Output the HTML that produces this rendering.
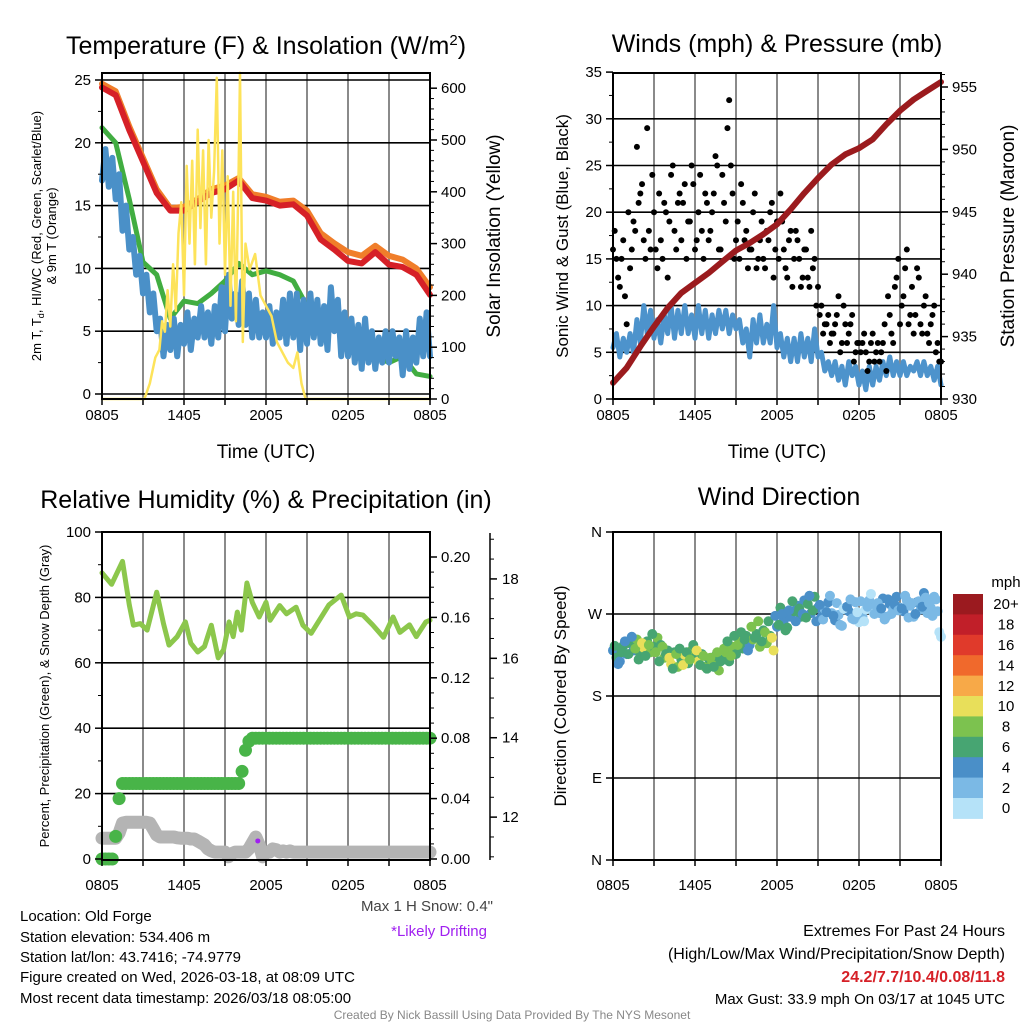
<!DOCTYPE html>
<html><head><meta charset="utf-8"><style>
html,body{margin:0;padding:0;background:#fff}
svg{display:block;font-family:"Liberation Sans",Arial,sans-serif}
</style></head><body>
<svg id="c" width="1024" height="1024" viewBox="0 0 1024 1024" xmlns="http://www.w3.org/2000/svg">
<rect width="1024" height="1024" fill="#fff"/>
<g id="layer"></g>
<!-- titles -->
<text x="266" y="54" font-size="25" text-anchor="middle">Temperature (F) &amp; Insolation (W/m<tspan dy="-9" font-size="15">2</tspan><tspan dy="9">)</tspan></text>
<text x="777" y="52" font-size="25" text-anchor="middle">Winds (mph) &amp; Pressure (mb)</text>
<text x="266" y="508" font-size="25" text-anchor="middle">Relative Humidity (%) &amp; Precipitation (in)</text>
<text x="779" y="505" font-size="25" text-anchor="middle">Wind Direction</text>
<!-- axis titles -->
<text x="266" y="458" font-size="19" text-anchor="middle">Time (UTC)</text>
<text x="777" y="458" font-size="19" text-anchor="middle">Time (UTC)</text>
<g transform="translate(41,236) rotate(-90)" font-size="13" text-anchor="middle"><text x="0" y="0">2m T, T<tspan font-size="9" dy="3">d</tspan><tspan dy="-3">, HI/WC (Red, Green, Scarlet/Blue)</tspan></text><text x="0" y="15">&amp; 9m T (Orange)</text></g>
<text transform="translate(500,236) rotate(-90)" font-size="19" text-anchor="middle">Solar Insolation (Yellow)</text>
<text transform="translate(568,236) rotate(-90)" font-size="17" text-anchor="middle">Sonic Wind &amp; Gust (Blue, Black)</text>
<text transform="translate(1014,236) rotate(-90)" font-size="19" text-anchor="middle">Station Pressure (Maroon)</text>
<text transform="translate(49,696) rotate(-90)" font-size="13" text-anchor="middle">Percent, Precipitation (Green), &amp; Snow Depth (Gray)</text>
<text transform="translate(566,696) rotate(-90)" font-size="17" text-anchor="middle">Direction (Colored By Speed)</text>
<!-- footer text -->
<g font-size="15">
<text x="20" y="921">Location: Old Forge</text>
<text x="20" y="942">Station elevation: 534.406 m</text>
<text x="20" y="962">Station lat/lon: 43.7416; -74.9779</text>
<text x="20" y="982">Figure created on Wed, 2026-03-18, at 08:09 UTC</text>
<text x="20" y="1003">Most recent data timestamp: 2026/03/18 08:05:00</text>
</g>
<text x="493" y="911" font-size="15" text-anchor="end" fill="#444">Max 1 H Snow: 0.4"</text>
<text x="487" y="936" font-size="15" text-anchor="end" fill="#a020f0">*Likely Drifting</text>
<g font-size="16" text-anchor="end">
<text x="1005" y="936">Extremes For Past 24 Hours</text>
<text x="1005" y="959">(High/Low/Max Wind/Precipitation/Snow Depth)</text>
<text x="1005" y="982" fill="#d62027" font-weight="bold">24.2/7.7/10.4/0.08/11.8</text>
<text x="1005" y="1004" font-size="15">Max Gust: 33.9 mph On 03/17 at 1045 UTC</text>
</g>
<text x="512" y="1019" font-size="12" text-anchor="middle" fill="#888">Created By Nick Bassill Using Data Provided By The NYS Mesonet</text>
</svg>
<script>
// ---- data (hours from 0805 UTC) ----
const xTickLabels = ["0805","1405","2005","0205","0805"];
const tempRed = [24.4,23.8,21.0,18.5,16.0,14.6,14.6,15.3,16.0,16.3,17.0,15.6,15.4,15.0,15.1,14.2,12.3,11.5,10.6,10.4,11.3,10.3,10.1,9.5,7.9];
const tempOrange = [24.7,24.1,21.3,18.8,16.3,14.8,14.9,15.5,16.3,16.6,17.2,15.9,15.7,15.3,15.4,14.6,12.8,12.0,11.3,11.0,11.8,11.0,10.7,10.0,8.5];
const tempGreen = [21.2,20.0,15.5,10.5,9.5,6.0,7.4,7.2,8.0,9.0,10.4,9.5,9.8,9.5,9.0,7.0,6.0,5.5,4.3,3.5,3.0,2.5,3.0,1.6,1.4];
const tempBlue = [17.0,19.5,16.5,18.8,15.5, 17.5,13.0,15.0,11.5, 12.5,9.5,11.0,8.0, 9.5,6.5,8.0,5.0, 6.0,3.0,5.5,3.5, 6.0,3.0,5.5,4.0, 6.5,3.5,6.0,4.5, 7.0,4.5,6.5,4.0, 7.0,4.5,8.5,5.0, 9.5,6.0,8.0,5.5, 9.0,5.5,8.0,4.5, 7.5,4.5,6.5,4.5, 7.0,4.0,6.5,4.5, 7.5,4.0,8.0,4.5, 8.0,3.5,7.5,4.0, 8.0,4.5,7.5,4.0, 7.0,3.5,8.5,5.0, 7.5,3.0,6.5,3.0, 6.0,2.5,5.5,2.0, 6.0,2.5,5.0,2.0, 4.5,2.5,5.0,2.5, 5.0,3.0,4.5,1.5, 5.0,2.0,4.5,2.5, 6.0,3.0,6.5,3.0];
const solarHours = [0,3.1,3.5,3.9,4.2,4.4,4.6,4.8,5.0,5.2,5.4,5.6,5.8,6.0,6.2,6.4,6.6,6.8,7.0,7.2,7.4,7.6,7.8,8.0,8.2,8.4,8.6,8.8,9.0,9.2,9.4,9.6,9.8,10.0,10.1,10.3,10.5,10.8,11.2,11.6,12.0,12.4,12.8,13.2,13.6,14.0,14.3,14.6,14.9,24];
const solarVals = [0,0,30,80,95,150,130,210,140,260,170,320,380,200,450,300,460,260,520,330,480,260,500,350,440,620,300,480,240,430,180,400,150,450,630,110,300,250,280,200,180,160,110,90,70,60,90,30,0,0];
const windVals = [5.5,7.0,4.5,6.5,5.0, 7.0,5.0,8.5,6.0, 10.0,7.0,9.5,6.5, 8.5,6.0,9.0,7.0, 10.0,6.5,9.5,7.0, 10.0,7.0,9.0,6.5, 10.0,7.0,9.5,6.5, 9.0,7.0,9.5,7.5, 9.5,7.0,9.0,7.5, 8.5,6.0,7.5,4.5, 8.5,6.0,9.0,6.0, 8.0,6.0,10.0,5.5, 7.0,4.5,6.5,4.0, 6.5,4.0,7.0,4.5, 6.5,4.0,7.5,4.5, 5.0,3.0,4.0,2.5, 4.0,2.0,3.5,1.5, 4.0,2.5,3.5,1.5, 3.0,1.0,3.5,1.5, 3.5,2.0,4.0,2.5, 4.5,2.5,4.0,2.5, 4.0,2.5,3.5,3.0, 4.0,2.5,4.0,2.5, 3.5,2.0,3.5,1.5];
const gustVals = [16,15,12,17,8, 14,19,27,22, 17,29,16,20, 14,17,21,13, 24,18,21,17, 23,19,25,16, 20,18,22,17, 20,26,16,24, 19,32,22,17, 15,21,18,16, 20,14,17,15, 18,20,13,19, 22,16,13,18, 15,17,12,16, 13,18,15,12, 10,8,9,7, 8,11,6,8, 7,9,5,6, 6,5,4,7, 5,4,6,3, 9,6,13,8, 11,16,9,7, 14,8,10,7, 8,10,6,4];
const gustValsB = [18,13,15,11, 20,16,18,21, 23,15,18,24, 16,22,15,20, 19,25,16,22, 21,15,19,23, 17,24,15,21, 18,22,25,16, 21,29,25,15, 19,23,17,14, 16,22,15,19, 14,17,21,16, 15,19,14,17, 12,18,15,13, 16,12,14,10, 9,7,8,6, 7,9,5,10, 6,8,4,6, 5,7,3,6, 4,6,5,8, 11,7,12,15, 10,14,8,12, 9,13,7,11, 6,9,5,4];
const pressureVals = [931.3,932.5,934.2,935.8,937.3,938.5,939.3,940.1,941.0,941.9,942.5,943.2,944.0,945.2,946.5,947.7,948.8,949.6,950.1,950.8,952.0,953.1,954.0,954.7,955.4];
const rhHours = [0,0.7,1.5,2.0,2.3,2.8,3.3,4.0,4.5,4.9,5.5,6.1,6.5,7.0,7.5,8.0,8.5,8.9,9.3,9.6,9.9,10.2,10.6,11.0,11.5,12.0,12.3,13.0,13.5,14.2,14.7,15.3,15.9,16.6,17.5,18.1,18.6,19.1,19.8,20.6,21.3,21.8,22.5,23.0,23.7,24];
const rhVals = [87.5,84,91,77.7,71.5,72,70,81.6,72,65.4,68,72.5,66,63.3,65,71.5,61.5,64,72.5,68,75.5,70,84.4,78.5,74,78.5,73,77.5,75,77,71.5,69,73,77.7,80.7,74,75,74.6,71.6,67.8,74,69.3,71.6,68,72.5,73];
const precipVals = [0,0,0,0,0.015,0.04,0.05,0.05,0.05,0.05,0.05,0.05,0.05,0.05,0.05,0.05,0.05,0.05,0.05,0.05,0.05,0.05,0.05,0.05,0.05,0.05,0.05,0.05,0.05,0.05,0.05,0.05,0.05,0.05,0.05,0.05,0.05,0.05,0.05,0.05,0.05,0.058,0.072,0.078,0.08,0.08,0.08,0.08,0.08,0.08,0.08,0.08,0.08,0.08,0.08,0.08,0.08,0.08,0.08,0.08,0.08,0.08,0.08,0.08,0.08,0.08,0.08,0.08,0.08,0.08,0.08,0.08,0.08,0.08,0.08,0.08,0.08,0.08,0.08,0.08,0.08,0.08,0.08,0.08,0.08,0.08,0.08,0.08,0.08,0.08,0.08,0.08,0.08,0.08,0.08,0.08,0.08];
const snowVals = [11.47,11.47,11.47,11.47,11.47, 11.6,11.85,11.87,11.87, 11.87,11.87,11.87,11.87, 11.87,11.85,11.7,11.55, 11.5,11.5,11.5,11.5, 11.5,11.48,11.47,11.47, 11.47,11.45,11.45,11.4, 11.35,11.3,11.2,11.15, 11.12,11.12,11.12,11.12, 11.0,11.08,11.12,11.12, 11.12,11.12,11.2,11.35, 11.5,11.3,11.0,11.12, 11.12,11.2,11.18,11.12, 11.15,11.12,11.15,11.12, 11.12,11.12,11.12,11.12, 11.12,11.12,11.12,11.12, 11.12,11.12,11.12,11.12, 11.12,11.12,11.12,11.12, 11.12,11.12,11.12,11.12, 11.12,11.12,11.12,11.12, 11.12,11.12,11.12,11.12, 11.12,11.12,11.12,11.12, 11.12,11.12,11.12,11.12, 11.12,11.12,11.12,11.12];
const dirVals = [230,222,218,235,226, 238,230,242,225, 233,240,228,234, 244,236,222,230, 215,228,212,220, 225,216,230,222, 218,226,212,221, 216,224,208,220, 228,218,234,226, 240,232,246,236, 242,248,234,252, 238,246,230,256, 277,263,255,267, 273,279,267,285, 281,271,289,277, 267,275,283,271, 263,269,257,275, 273,265,283,261, 267,275,285,273, 279,271,287,267, 281,275,289,277, 273,285,279,267, 283,275,293,271, 277,289,273,245];
const dirValsB = [235,215,228,240, 226,245,232,220, 238,224,236,248, 228,218,234,226, 222,210,226,232, 214,228,220,236, 230,214,224,210, 222,212,228,218, 232,240,224,246, 236,250,242,230, 256,244,262,240, 250,262,244,268, 258,270,252,274, 284,262,276,270, 266,290,274,262, 280,264,272,290, 268,282,258,276, 278,286,264,272, 284,262,278,292, 270,282,276,264, 286,270,280,274, 276,290,266,282, 270,284,278,288, 282,268,286,250];
const driftHour = [11.4];
const driftSnow = [11.4];
const speedBins = ["0","2","4","6","8","10","12","14","16","18","20+"];
const speedColors = ["#b5e2f8","#7bb9e5","#4a8fc8","#47a572","#7cc24f","#e8df5a","#f7a948","#f0692c","#e03a2b","#c11f29","#9b1a1f"];

// ---- helpers ----
const NS = "http://www.w3.org/2000/svg";
const layer = document.getElementById("layer");
function mk(tag, attrs, parent){ const e=document.createElementNS(NS,tag); for(const k in attrs) e.setAttribute(k,attrs[k]); (parent||layer).appendChild(e); return e; }
const W = 328;
function xAt(x0,h){ return x0 + h*W/24; }
function stepH(i){ return i/4; }

function panelFrame(x0,y0,y1,hLines,name){
  const g = mk("g",{});
  
  
  for(let h=3;h<24;h+=3){ mk("line",{x1:xAt(x0,h),x2:xAt(x0,h),y1:y0,y2:y1,stroke:"#8a8a8a","stroke-width":2},g); }
  hLines.forEach(y=>mk("line",{x1:x0,x2:x0+W,y1:y,y2:y,stroke:"#000","stroke-width":1.6},g));
  return g;
}
function panelBox(x0,y0,y1,name,labelY){
  const g = mk("g",{});
  
  
  mk("rect",{x:x0,y:y0,width:W,height:y1-y0,fill:"none",stroke:"#000","stroke-width":2},g);
  for(let h=0;h<=24;h+=3){ mk("line",{x1:xAt(x0,h),x2:xAt(x0,h),y1:y1,y2:y1+6,stroke:"#000","stroke-width":1.5},g); }
  xTickLabels.forEach((t,i)=>{ const e=mk("text",{x:xAt(x0,i*6),y:labelY,"font-size":15,"text-anchor":"middle"},g); e.textContent=t; });
}
function yAxis(x,ticks,fn,labels,side,name,minor){
  const g = mk("g",{});
  
  
  const d = side==="left"?-1:1;
  (minor||[]).forEach(v=>mk("line",{x1:x,x2:x+d*4,y1:fn(v),y2:fn(v),stroke:"#000","stroke-width":1},g));
  ticks.forEach((v,i)=>{
    mk("line",{x1:x,x2:x+d*7,y1:fn(v),y2:fn(v),stroke:"#000","stroke-width":1.5},g);
    const t=mk("text",{x:x+d*11,y:fn(v)+5,"font-size":15,"text-anchor":side==="left"?"end":"start"},g);
    t.textContent=labels[i];
  });
  return g;
}
function poly(pts,color,w,name,parent){
  const e=mk("polyline",{points:pts.map(p=>p[0].toFixed(1)+","+p[1].toFixed(1)).join(" "),fill:"none",stroke:color,"stroke-width":w,"stroke-linejoin":"round","stroke-linecap":"round"},parent);
  
  
  return e;
}

// ===== Panel 1: temperature =====
{
  const x0=102, y0=73, y1=399;
  const yT=v=>394-v*12.56, yS=v=>399-v*0.518;
  panelFrame(x0,y0,y1,[0,5,10,15,20,25].map(yT),"temperature");
  poly(tempOrange.map((v,i)=>[xAt(x0,i),yT(v)]),"#f07e2a",6,"series-9m-temperature");
  poly(tempRed.map((v,i)=>[xAt(x0,i),yT(v)]),"#d62027",6,"series-2m-temperature");
  poly(tempGreen.map((v,i)=>[xAt(x0,i),yT(v)]),"#41ad41",5,"series-dewpoint");
  poly(tempBlue.map((v,i)=>[xAt(x0,stepH(i)),yT(v)]),"#4a90c8",6,"series-wind-chill");
  poly(solarVals.map((v,i)=>[xAt(x0,solarHours[i]),yS(v)]),"#fde35a",2.5,"series-solar-insolation");
  panelBox(x0,y0,y1,"temperature",420);
  yAxis(x0,[0,5,10,15,20,25],yT,["0","5","10","15","20","25"],"left","temperature-y-axis",[2.5,7.5,12.5,17.5,22.5]);
  const mn=[]; for(let v=20;v<620;v+=20) if(v%100) mn.push(v);
  yAxis(x0+W,[0,100,200,300,400,500,600],yS,["0","100","200","300","400","500","600"],"right","solar-y-axis",mn);
}

// ===== Panel 2: winds =====
{
  const x0=613, y0=73, y1=399;
  const yW=v=>399-v*9.34, yP=p=>399-(p-930)*12.48;
  panelFrame(x0,y0,y1,[5,10,15,20,25,30].map(yW),"winds");
  poly(windVals.map((v,i)=>[xAt(x0,stepH(i)),yW(v)]),"#4d93cc",5,"series-sonic-wind");
  const gg=mk("g",{});
  
  
  gustVals.forEach((v,i)=>{ const c=mk("circle",{cx:xAt(x0,stepH(i)),cy:yW(v),r:3,fill:"#000"},gg);   });
  gustValsB.forEach((v,i)=>{ const c=mk("circle",{cx:xAt(x0,stepH(i)+0.125),cy:yW(v),r:3,fill:"#000"},gg);   });
  poly(pressureVals.map((v,i)=>[xAt(x0,i),yP(v)]),"#9b1b1e",6,"series-station-pressure");
  panelBox(x0,y0,y1,"winds",420);
  yAxis(x0,[0,5,10,15,20,25,30,35],yW,["0","5","10","15","20","25","30","35"],"left","wind-y-axis",[2.5,7.5,12.5,17.5,22.5,27.5,32.5]);
  yAxis(x0+W,[930,935,940,945,950,955],yP,["930","935","940","945","950","955"],"right","pressure-y-axis",[931,932,933,934,936,937,938,939,941,942,943,944,946,947,948,949,951,952,953,954,956]);
}

// ===== Panel 3: humidity / precip / snow =====
{
  const x0=102, y0=532, y1=860;
  const yRH=v=>859-v*3.27, yPr=v=>859-v*1510, ySn=s=>860-(s-10.92)*39.7;
  panelFrame(x0,y0,y1,[20,40,60,80].map(yRH),"humidity");
  poly(rhVals.map((v,i)=>[xAt(x0,rhHours[i]),yRH(v)]),"#8cc74c",5,"series-relative-humidity");
  poly(snowVals.map((v,i)=>[xAt(x0,stepH(i)),ySn(v)]),"#b4b4b4",13,"series-snow-depth");
  const pg=mk("g",{});
  
  
  precipVals.forEach((v,i)=>{ const c=mk("circle",{cx:xAt(x0,stepH(i)),cy:yPr(v),r:6.5,fill:"#48b448"},pg);   });
  driftHour.forEach((h,i)=>{ const c=mk("circle",{cx:xAt(x0,h),cy:ySn(driftSnow[i]),r:2.5,fill:"#a020f0"});   });
  panelBox(x0,y0,y1,"humidity",890);
  yAxis(x0,[0,20,40,60,80,100],yRH,["0","20","40","60","80","100"],"left","humidity-y-axis",[10,30,50,70,90]);
  const pm=[]; for(let k=1;k<21;k++) if(k%4) pm.push(k*0.01);
  yAxis(x0+W,[0,0.04,0.08,0.12,0.16,0.20],yPr,["0.00","0.04","0.08","0.12","0.16","0.20"],"right","precip-y-axis",pm);
  const sg=mk("g",{});
  
  
  mk("line",{x1:490,x2:490,y1:533,y2:860,stroke:"#000","stroke-width":1.5},sg);
  [11,11.5,12.5,13,13.5,14.5,15,15.5,16.5,17,17.5,18.5,19].forEach(v=>mk("line",{x1:490,x2:494,y1:ySn(v),y2:ySn(v),stroke:"#000","stroke-width":1},sg));
  [12,14,16,18].forEach(v=>{ mk("line",{x1:490,x2:497,y1:ySn(v),y2:ySn(v),stroke:"#000","stroke-width":1.5},sg); const t=mk("text",{x:502,y:ySn(v)+5,"font-size":15},sg); t.textContent=String(v); });
}

// ===== Panel 4: wind direction =====
{
  const x0=613, y0=532, y1=860;
  const yD=d=>860-d*328/360;
  panelFrame(x0,y0,y1,[90,180,270].map(yD),"direction");
  const dg=mk("g",{});
  
  
  function col(s){ let k=Math.floor(s/2); if(k>10)k=10; if(k<0)k=0; return speedColors[k]; }
  dirVals.forEach((d,i)=>{ const c=mk("circle",{cx:xAt(x0,stepH(i)),cy:yD(d),r:5,fill:col(windVals[i])},dg);   });
  dirValsB.forEach((d,i)=>{ const c=mk("circle",{cx:xAt(x0,stepH(i)+0.125),cy:yD(d),r:5,fill:col(windVals[i+1])},dg);   });
  panelBox(x0,y0,y1,"direction",890);
  yAxis(x0,[0,90,180,270,360],yD,["N","E","S","W","N"],"left","direction-y-axis",[]);
  const cb=mk("g",{});
  
  
  const t0=mk("text",{x:1006,y:587,"font-size":15,"text-anchor":"middle"},cb); t0.textContent="mph";
  const segH=20.4;
  for(let k=10;k>=0;k--){
    const y=594+(10-k)*segH;
    const r=mk("rect",{x:953,y:y,width:30,height:segH+0.5,fill:speedColors[k]},cb);
    
    
    const t=mk("text",{x:1006,y:y+segH/2+5,"font-size":15,"text-anchor":"middle"},cb); t.textContent=speedBins[k];
  }
}
</script>
</body></html>
